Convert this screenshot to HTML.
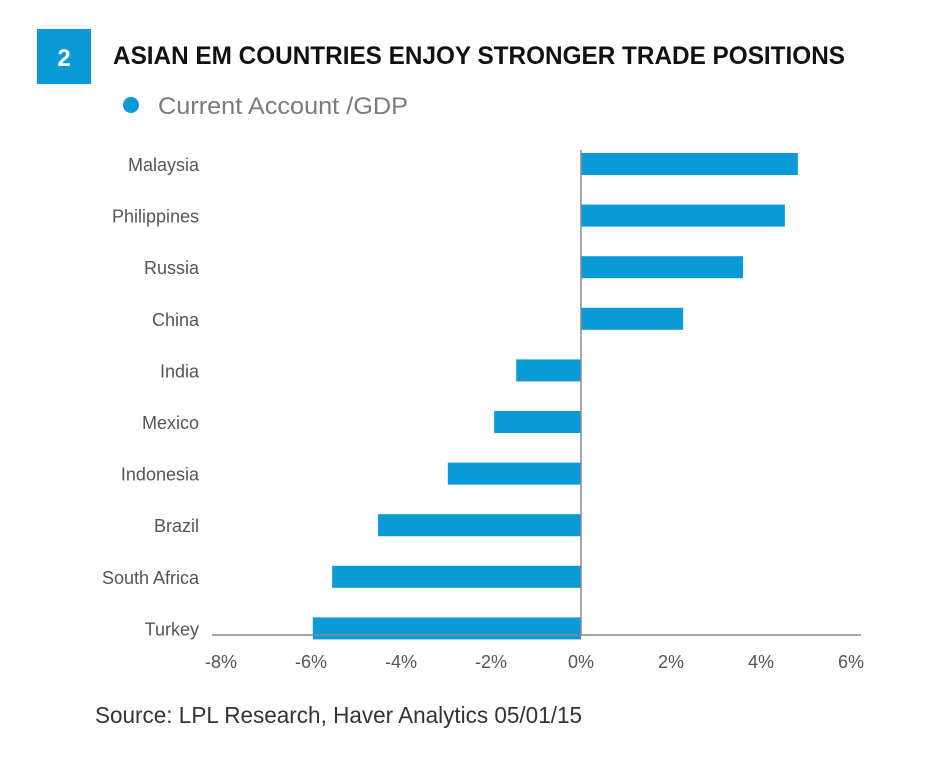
<!DOCTYPE html>
<html><head><meta charset="utf-8"><style>body{margin:0;background:#fff}svg{display:block}</style></head>
<body>
<svg width="934" height="762" xmlns="http://www.w3.org/2000/svg" font-family="Liberation Sans, sans-serif">
<rect x="37" y="29" width="54" height="55" fill="#0a9ad8"/>
<text x="64" y="66" fill="#fff" font-size="24" font-weight="bold" text-anchor="middle">2</text>
<text x="113" y="64" font-size="25" font-weight="bold" fill="#111" textLength="732" lengthAdjust="spacingAndGlyphs">ASIAN EM COUNTRIES ENJOY STRONGER TRADE POSITIONS</text>
<circle cx="131" cy="105" r="8" fill="#0a9ad8"/>
<text x="158" y="114" font-size="24" fill="#7a7a7f" textLength="250" lengthAdjust="spacingAndGlyphs">Current Account /GDP</text>
<g id="plot"></g>
<text x="95" y="723" font-size="23" fill="#333" textLength="487" lengthAdjust="spacingAndGlyphs">Source: LPL Research, Haver Analytics  05/01/15</text>
</svg>
<script>
const categories=["Malaysia","Philippines","Russia","China","India","Mexico","Indonesia","Brazil","South Africa","Turkey"];
const values=[4.82,4.53,3.6,2.27,-1.44,-1.93,-2.96,-4.51,-5.53,-5.96];
const ticks=[-8,-6,-4,-2,0,2,4,6];
const tickLabels=["-8%","-6%","-4%","-2%","0%","2%","4%","6%"];
const NS="http://www.w3.org/2000/svg";
const g=document.getElementById('plot');
const x=v=>581+v*45;
const y=i=>164+i*51.6;
function mk(t,a){const e=document.createElementNS(NS,t);for(const k in a)e.setAttribute(k,a[k]);g.appendChild(e);return e;}
categories.forEach((c,i)=>{
  const v=values[i];
  const r=mk('rect',{x:Math.min(x(0),x(v)),y:y(i)-11,width:Math.abs(x(v)-x(0)),height:22,fill:'#0a9ad8'});
  
  
  const t=mk('text',{x:199,y:y(i)+7,'font-size':18,fill:'#555','text-anchor':'end'});
  t.textContent=c;
  
  
});
const ax=mk('line',{x1:212,x2:861,y1:635,y2:635,stroke:'#888','stroke-width':1.5});


const z=mk('line',{x1:x(0),x2:x(0),y1:150,y2:635,stroke:'#888','stroke-width':1.5});


ticks.forEach((v,i)=>{
  const t=mk('text',{x:x(v),y:668,'font-size':18,fill:'#555','text-anchor':'middle'});
  t.textContent=tickLabels[i];
  
  
});
</script>
</body></html>
